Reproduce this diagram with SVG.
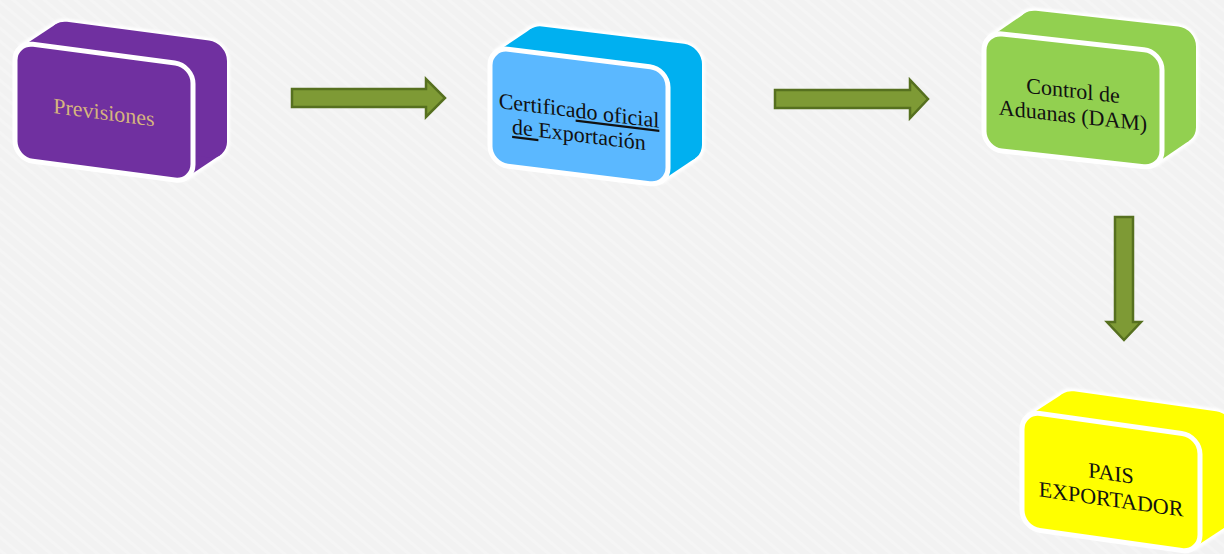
<svg xmlns="http://www.w3.org/2000/svg" xmlns:xlink="http://www.w3.org/1999/xlink" width="1224" height="554" viewBox="0 0 1224 554">
  <style>
    .lbl { font-family: "Liberation Serif", "Times New Roman", serif; font-size: 22px; text-anchor: middle; }
    .dark { fill: #111111; }
    .arrow { fill: #7E9A35; stroke: #56701F; stroke-width: 2.5; stroke-linejoin: miter; }
    .outline { fill: #FFFFFF; stroke: #FFFFFF; stroke-width: 6; stroke-linejoin: round; }
    .front { stroke: #FFFFFF; stroke-width: 5; }
  </style>
  <defs>
    <pattern id="tex" width="10" height="10" patternUnits="userSpaceOnUse" patternTransform="rotate(40)">
      <rect width="10" height="10" fill="#F2F2F2"/>
      <rect width="10" height="3" fill="#F5F5F5"/>
    </pattern>
    <filter id="soft" x="-10%" y="-10%" width="120%" height="120%">
      <feGaussianBlur stdDeviation="1"/>
    </filter>
    <g id="body">
      <path d="M6.81,3.91 L40.81,-23.09 L205.19,86.09 L171.19,113.09 Z"/>
      <rect x="34" y="-27" width="178" height="117" rx="18"/>
    </g>
  </defs>

  <rect width="1224" height="554" fill="url(#tex)"/>

  <g id="connectors">
    <path id="arrow-1" class="arrow" d="M292,89 L426,89 L426,79 L445,98 L426,117 L426,107 L292,107 Z"/>
    <path id="arrow-2" class="arrow" d="M775,90 L910,90 L910,80 L928,99 L910,118 L910,108 L775,108 Z"/>
    <path id="arrow-3" class="arrow" d="M1115,217 L1133,217 L1133,322 L1141,322 L1124,340 L1107,322 L1115,322 Z"/>
  </g>

  <g id="node-previsiones" transform="translate(15,42) skewY(7.5)">
    <use xlink:href="#body" class="outline" filter="url(#soft)"/>
    <use xlink:href="#body" fill="#7030A0"/>
    <rect class="front" x="0" y="0" width="178" height="117" rx="18" fill="#7030A0"/>
    <text class="lbl" x="89" y="66" fill="#D6B57E">Previsiones</text>
  </g>

  <g id="node-certificado" transform="translate(490,47) skewY(7)">
    <use xlink:href="#body" class="outline" filter="url(#soft)"/>
    <use xlink:href="#body" fill="#00B0F0"/>
    <rect class="front" x="0" y="0" width="178" height="117" rx="18" fill="#5BB8FF"/>
    <text class="lbl dark" x="89" y="60"><tspan>Certifica</tspan><tspan text-decoration="underline">do oficial</tspan></text>
    <text class="lbl dark" x="89" y="84"><tspan text-decoration="underline">de </tspan><tspan>Exportación</tspan></text>
  </g>

  <g id="node-control" transform="translate(984,32) skewY(6.3)">
    <use xlink:href="#body" class="outline" filter="url(#soft)"/>
    <use xlink:href="#body" fill="#92D050"/>
    <rect class="front" x="0" y="0" width="178" height="117" rx="18" fill="#92D050"/>
    <text class="lbl dark" x="89" y="56">Control de</text>
    <text class="lbl dark" x="89" y="81">Aduanas (DAM)</text>
  </g>

  <g id="node-pais" transform="translate(1022,411) skewY(8)">
    <use xlink:href="#body" class="outline" filter="url(#soft)"/>
    <use xlink:href="#body" fill="#FFFF00"/>
    <rect class="front" x="0" y="0" width="178" height="117" rx="18" fill="#FFFF00"/>
    <text class="lbl dark" x="89" y="57">PAIS</text>
    <text class="lbl dark" x="89" y="83">EXPORTADOR</text>
  </g>
</svg>
